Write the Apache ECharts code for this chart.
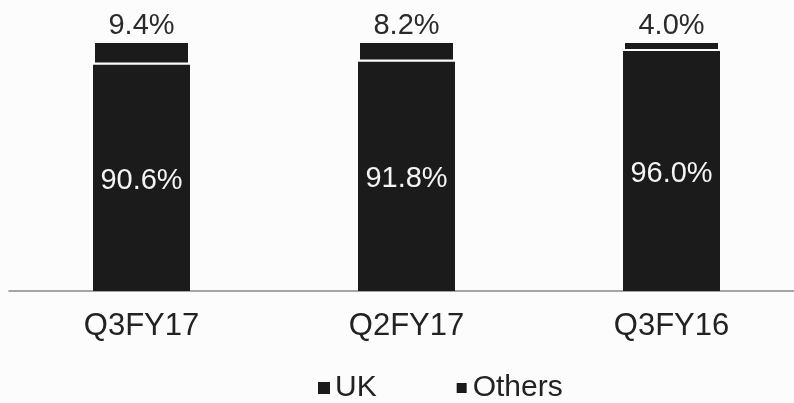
<!DOCTYPE html>
<html>
<head>
<meta charset="utf-8">
<script src="https://cdn.jsdelivr.net/npm/echarts@6/dist/echarts.min.js"></script>
<style>
  html, body { margin: 0; padding: 0; background: #fcfcfc; }
  #main { width: 794px; height: 403px; }
</style>
</head>
<body>
<div id="main"></div>
<script>
// quarters and share of each region (%)
var quarters = ['Q3FY17', 'Q2FY17', 'Q3FY16'];
var ukShare = [90.6, 91.8, 96.0];
var othersShare = [9.4, 8.2, 4.0];

var chart = echarts.init(document.getElementById('main'));

var option = {
    backgroundColor: '#fcfcfc',
    animation: false,
    grid: { left: 9, top: 41, width: 795, bottom: 112, outerBoundsMode: 'none', containLabel: false },
    legend: {
        data: ['UK', 'Others'],
        left: 313,
        top: 368,
        icon: 'rect',
        itemWidth: 12,
        itemHeight: 12,
        itemGap: 78,
        textStyle: { fontFamily: 'Liberation Sans', fontSize: 30, color: '#222' }
    },
    xAxis: {
        type: 'category',
        data: quarters,
        axisTick: { show: false },
        axisLine: { lineStyle: { color: '#888', width: 1.5 } },
        axisLabel: { margin: 20, fontFamily: 'Liberation Sans', fontSize: 31, color: '#222' }
    },
    yAxis: { type: 'value', min: 0, max: 100, show: false },
    series: [
        {
            name: 'UK',
            type: 'bar',
            stack: 'share',
            barWidth: 97,
            data: ukShare,
            itemStyle: { color: '#1b1b1b' },
            label: {
                show: true,
                position: 'inside',
                offset: [0, 3],
                formatter: function (p) { return p.value.toFixed(1) + '%'; },
                fontFamily: 'Liberation Sans',
                fontSize: 29,
                color: '#f4f4f4'
            }
        },
        {
            name: 'Others',
            type: 'bar',
            stack: 'share',
            barWidth: 97,
            data: othersShare,
            itemStyle: { color: '#1b1b1b', borderColor: '#fcfcfc', borderWidth: 2 },
            label: {
                show: true,
                position: 'top',
                distance: 1,
                formatter: function (p) { return p.value.toFixed(1) + '%'; },
                fontFamily: 'Liberation Sans',
                fontSize: 29,
                color: '#2a2a2a'
            }
        }
    ]
};

chart.setOption(option);
</script>
</body>
</html>
